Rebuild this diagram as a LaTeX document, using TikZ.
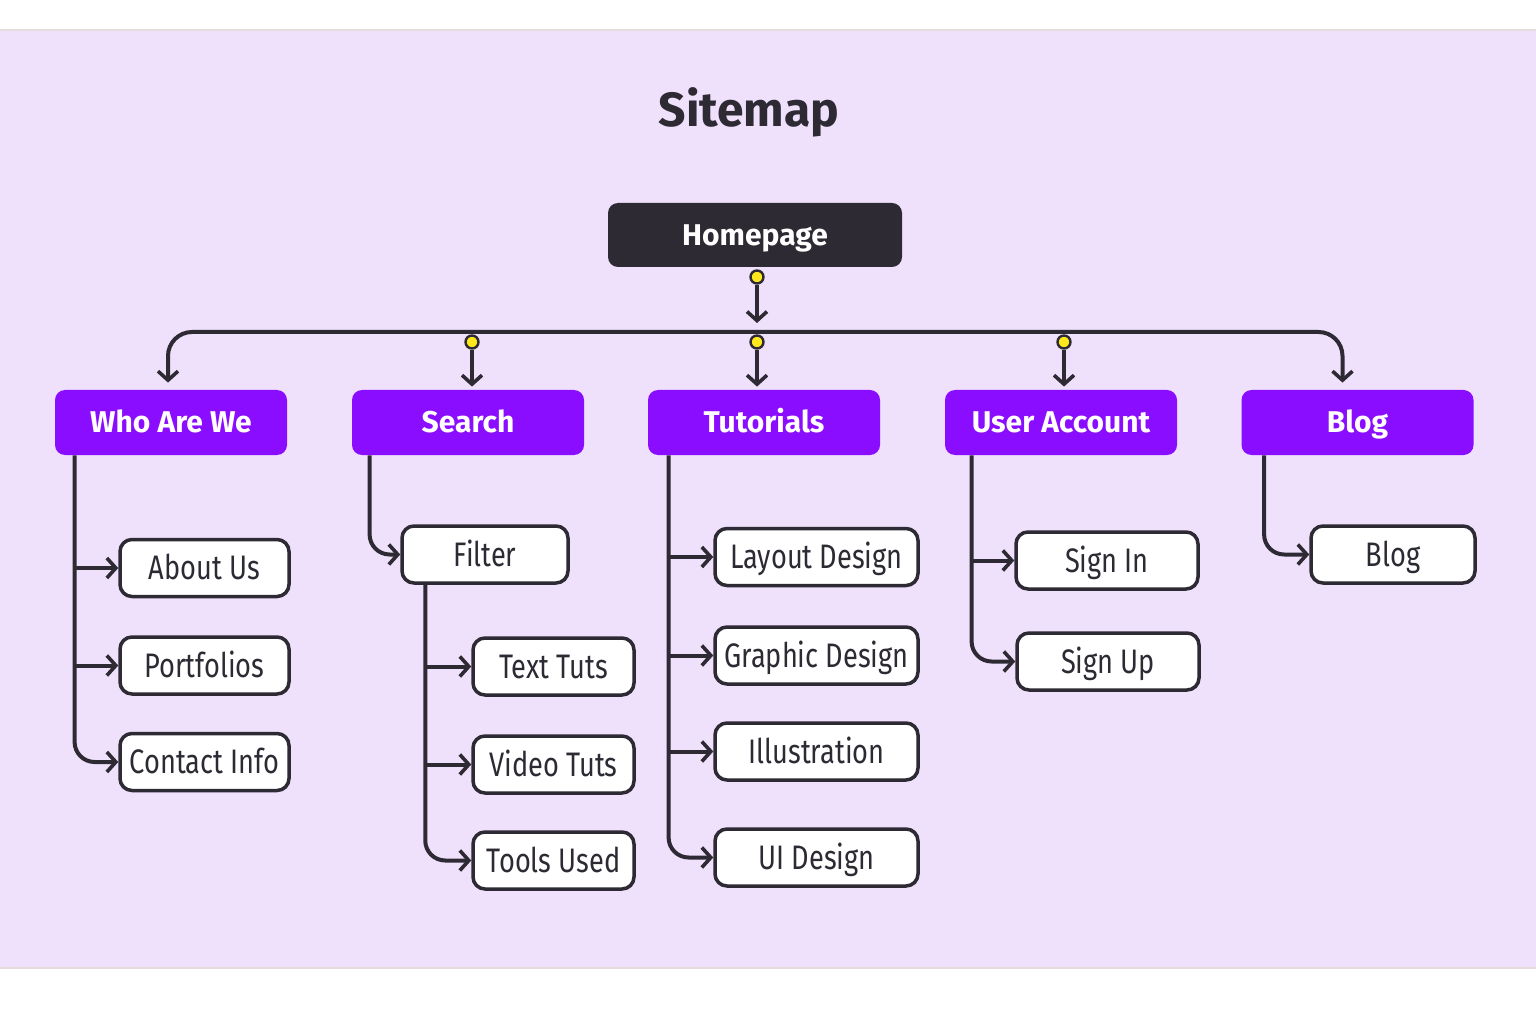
\documentclass[tikz,border=0pt]{standalone}
\usepackage{fontspec}
\setmainfont{Fira Sans}
\newfontfamily\narrowfont[FakeStretch=0.8]{Fira Sans}
\usetikzlibrary{arrows.meta,calc}

\definecolor{panel}{HTML}{EFE0FC}
\definecolor{ink}{HTML}{2E2A33}
\definecolor{violet}{HTML}{8B0DFF}
\definecolor{pinyellow}{HTML}{FFE81C}
\definecolor{rim}{HTML}{E6DCDC}

\tikzset{
  barb/.tip={Straight Barb[length=4.5pt,width=10pt,line width=1.8pt]},
  link/.style={draw=ink, line width=2pt, -barb},
  homebox/.style={fill=ink, text=white, rounded corners=5pt,
    minimum width=147pt, minimum height=32pt,
    text height=12pt, text depth=1.6pt,
    font=\fontsize{15}{18}\selectfont\bfseries},
  hub/.style={fill=violet, text=white, rounded corners=5pt,
    minimum width=116pt, minimum height=32.5pt,
    text height=12pt, text depth=1.6pt,
    font=\fontsize{15}{18}\selectfont\bfseries},
  leaf/.style={draw=ink, fill=white, line width=1.75pt, rounded corners=6pt,
    minimum height=28.5pt, text=ink, inner sep=0pt,
    text height=13pt, text depth=1.2pt,
    font=\narrowfont\fontsize{17}{19}\selectfont},
  joint/.style={circle, draw=ink, fill=pinyellow, line width=1.2pt,
    inner sep=0pt, minimum size=6.5pt},
}

\begin{document}
\begin{tikzpicture}[x=0.5pt,y=-0.5pt]
\useasboundingbox (0,0) rectangle (1536,1026);
\fill[white] (0,0) rectangle (1536,1026);
\fill[panel] (0,30) rectangle (1536,968);
\draw[rim, line width=1pt] (0,30) -- (1536,30);
\draw[rim, line width=1pt] (0,968) -- (1536,968);

\node[text=ink, font=\fontsize{24}{28}\selectfont\bfseries] (title) at (749,112) {Sitemap};

% top level
\node[homebox] (home) at (755,235) {Homepage};

\node[hub] (who)     at (171,422.5)  {Who Are We};
\node[hub] (search)  at (468,422.5)  {Search};
\node[hub] (tuts)    at (764,422.5)  {Tutorials};
\node[hub] (account) at (1061,422.5) {User Account};
\node[hub] (blog)    at (1357.5,422.5) {Blog};

% pages
\node[leaf, minimum width=84.5pt] (about)      at (204.5,568)   {About Us};
\node[leaf, minimum width=84.5pt] (portfolios) at (204.5,665.5) {Portfolios};
\node[leaf, minimum width=84.5pt] (contact)    at (204.5,762)   {Contact Info};

\node[leaf, minimum width=83pt]   (filter)     at (485,554.5)   {Filter};
\node[leaf, minimum width=80.5pt] (texttuts)   at (553.5,666.5) {Text Tuts};
\node[leaf, minimum width=80.5pt] (videotuts)  at (553.5,764.5) {Video Tuts};
\node[leaf, minimum width=80.5pt] (tools)      at (553.5,860.5) {Tools Used};

\node[leaf, minimum width=101.5pt] (layout)    at (816.5,557)   {Layout Design};
\node[leaf, minimum width=101.5pt] (graphic)   at (816.5,655.5) {Graphic Design};
\node[leaf, minimum width=101.5pt] (illus)     at (816.5,751.5) {Illustration};
\node[leaf, minimum width=101.5pt] (ui)        at (816.5,857.5) {UI Design};

\node[leaf, minimum width=91pt]   (signin)     at (1107,560.5)  {Sign In};
\node[leaf, minimum width=91pt]   (signup)     at (1108,661.5)  {Sign Up};

\node[leaf, minimum width=82pt]   (blogpost)   at (1393,554.5)  {Blog};

% bus from homepage
\coordinate (busL) at ($(who.north)+(-3,-7)$);
\coordinate (busR) at ($(blog.north)+(-15,-7)$);
\coordinate (busM) at (757,332);
\draw[link, barb-barb, rounded corners=12pt] (busL) |- (busM) -| (busR);

\node[joint] (j0) at (757,277) {};
\draw[link] (j0) -- (757,323);

\node[joint] (j1) at (472,342) {};
\node[joint] (j2) at (757,342) {};
\node[joint] (j3) at (1064,342) {};
\draw[link, shorten >=1.5pt] (j1) -- (j1 |- search.north);
\draw[link, shorten >=1.5pt] (j2) -- (j2 |- tuts.north);
\draw[link, shorten >=1.5pt] (j3) -- (j3 |- account.north);

% trunks
\coordinate (whoT)    at ($(who.south west)+(20,0)$);
\coordinate (searchT) at ($(search.south west)+(18,0)$);
\coordinate (filterT) at ($(filter.south west)+(25,0)$);
\coordinate (tutsT)   at ($(tuts.south west)+(21,0)$);
\coordinate (accT)    at ($(account.south west)+(27,0)$);
\coordinate (blogT)   at ($(blog.south west)+(23,0)$);

\draw[link, rounded corners=10pt] (whoT) |- (contact.west);
\draw[link] (whoT |- about.west) -- (about.west);
\draw[link] (whoT |- portfolios.west) -- (portfolios.west);

\draw[link, rounded corners=10pt] (searchT) |- (filter.west);
\draw[link, rounded corners=10pt] (filterT) |- (tools.west);
\draw[link] (filterT |- texttuts.west) -- (texttuts.west);
\draw[link] (filterT |- videotuts.west) -- (videotuts.west);

\draw[link, rounded corners=10pt] (tutsT) |- (ui.west);
\draw[link] (tutsT |- layout.west) -- (layout.west);
\draw[link] (tutsT |- graphic.west) -- (graphic.west);
\draw[link] (tutsT |- illus.west) -- (illus.west);

\draw[link, rounded corners=10pt] (accT) |- (signup.west);
\draw[link] (accT |- signin.west) -- (signin.west);

\draw[link, rounded corners=10pt] (blogT) |- (blogpost.west);
\end{tikzpicture}
\end{document}
